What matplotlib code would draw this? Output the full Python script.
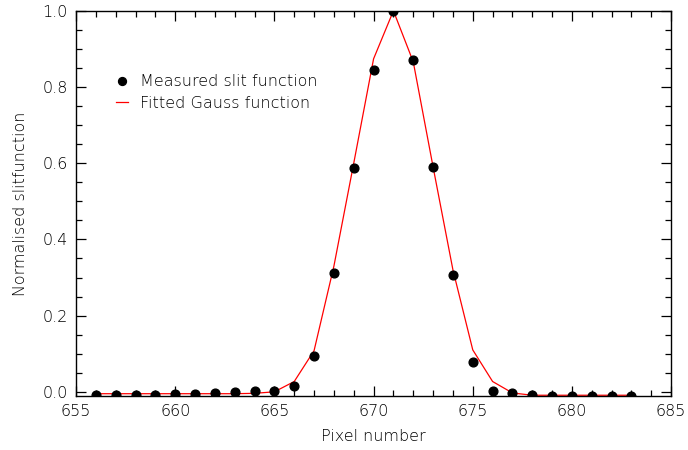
import matplotlib.pyplot as plt
import numpy as np
from matplotlib.ticker import MultipleLocator

# Pixel positions across the slit
pixels = np.arange(656, 684)

# Measured slit function (normalised)
measured = [-0.008, -0.008, -0.008, -0.008, -0.007, -0.005, -0.003, -0.001,
            0.001, 0.003, 0.016, 0.093, 0.312, 0.588, 0.844, 1.0,
            0.871, 0.589, 0.307, 0.078, 0.003, -0.003, -0.008, -0.010,
            -0.010, -0.010, -0.010, -0.010]

# Gauss fit evaluated on the same pixels
fitted = [-0.005, -0.005, -0.005, -0.005, -0.005, -0.005, -0.005, -0.005,
          -0.004, 0.0, 0.027, 0.108, 0.33, 0.60, 0.874, 1.0,
          0.866, 0.59, 0.32, 0.11, 0.027, -0.003, -0.009, -0.009,
          -0.009, -0.009, -0.009, -0.009]

plt.rcParams['font.family'] = 'DejaVu Sans'
plt.rcParams['font.size'] = 11
plt.rcParams['font.weight'] = 'light'

txt = 'black'

fig = plt.figure(figsize=(6.88, 4.5), dpi=100)
ax = fig.add_axes([0.1105, 0.12, 0.865, 0.856])

ax.plot(pixels, measured, 'o', color='black', markersize=6.3,
        label='Measured slit function', zorder=3)
ax.plot(pixels, fitted, '-', color='red', linewidth=0.9,
        label='Fitted Gauss function', zorder=2)

ax.set_xlim(655, 685)
ax.set_ylim(-0.011, 1.0)
ax.xaxis.set_major_locator(MultipleLocator(5))
ax.xaxis.set_minor_locator(MultipleLocator(1))
ax.yaxis.set_major_locator(MultipleLocator(0.2))
ax.yaxis.set_minor_locator(MultipleLocator(0.05))
ax.yaxis.set_major_formatter(plt.FormatStrFormatter('%.1f'))

ax.tick_params(which='both', direction='in', top=True, right=True,
               labelsize=11.5, colors='black', labelcolor=txt)
ax.tick_params(which='major', length=7, width=0.9, pad=6)
ax.tick_params(which='minor', length=4, width=0.9)
for s in ax.spines.values():
    s.set_linewidth(1.0)

ax.set_xlabel('Pixel number', fontsize=11.5, color=txt, labelpad=7,
              fontweight='light')
ax.set_ylabel('Normalised slitfunction', fontsize=11.5, color=txt,
              labelpad=10, fontweight='light')

ax.legend(loc='upper left', bbox_to_anchor=(0.057, 0.852), frameon=False,
          handlelength=0.7, handletextpad=0.8, borderaxespad=0,
          labelspacing=0.4, fontsize=11.5, markerscale=0.9,
          labelcolor=txt)

plt.savefig('out.png', dpi=100)
